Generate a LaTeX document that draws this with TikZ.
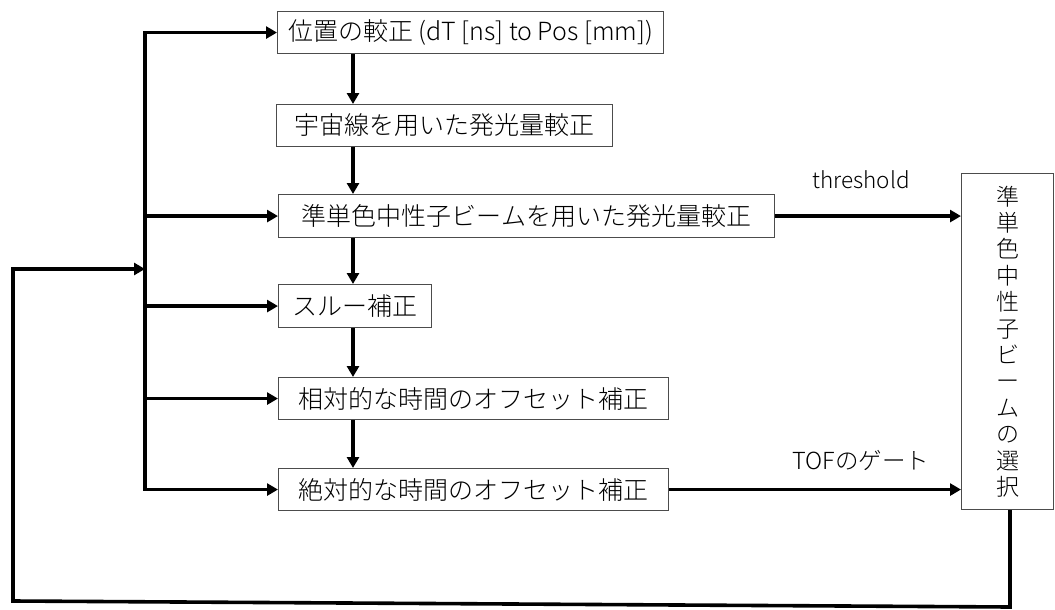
\documentclass[tikz,border=0pt]{standalone}
\usepackage{fontspec}
\setmainfont{Noto Sans CJK JP}[UprightFont={* Light}]
\usetikzlibrary{arrows.meta}
\begin{document}
\begin{tikzpicture}[x=1pt,y=-1pt,
  box/.style={draw=black!70, line width=1.1pt, anchor=north west, minimum height=42pt, inner sep=0pt, font=\fontsize{25}{29}\selectfont},
  conn/.style={line width=3.6pt, line cap=rect, -{Triangle[length=11pt,width=12pt]}},
  plain/.style={line width=3.6pt},
  lbl/.style={font=\fontsize{22.5}{26}\selectfont, inner sep=0pt}]
\useasboundingbox (0,0) rectangle (1055,610);
\node[box, minimum width=386pt] (b1) at (277,11) {位置の較正 (dT [ns] to Pos [mm])};
\node[box, minimum width=336pt] (b2) at (276,104) {宇宙線を用いた発光量較正};
\node[box, minimum width=496pt, minimum height=43pt] (b3) at (278,194) {準単色中性子ビームを用いた発光量較正};
\node[box, minimum width=153pt, minimum height=43pt] (b4) at (278,284) {スルー補正};
\node[box, minimum width=390pt] (b5) at (278,377) {相対的な時間のオフセット補正};
\node[box, minimum width=390pt] (b6) at (278,468) {絶対的な時間のオフセット補正};
\node[box, minimum width=92pt, minimum height=336pt, align=center, font=\fontsize{23}{26.4}\selectfont] (sel) at (961,173)
  {準\\単\\色\\中\\性\\子\\ビ\\ー\\ム\\の\\選\\択};
\node[lbl] (th) at (861,180) {threshold};
\node[lbl, font=\fontsize{23.5}{27}\selectfont] (tof) at (861,460) {TOFのゲート};
\coordinate (bus) at (145,0);
\coordinate (vx) at (353,0);
\coordinate (fr) at (1010,607);
\coordinate (fl) at (13,601);
\coordinate (ft) at (13,269);
\coordinate (fin) at (145,269);
% bus
\draw[plain] (b1.west -| bus) -- (b6.west -| bus);
\draw[conn] (b1.west -| bus) -- (b1.west);
\draw[conn] (b3.west -| bus) -- (b3.west);
\draw[conn] (b4.west -| bus) -- (b4.west);
\draw[conn] (b5.west -| bus) -- (b5.west);
\draw[conn] (b6.west -| bus) -- (b6.west);
% chain
\draw[conn, line cap=butt] (b1.south -| vx) -- (b2.north -| vx);
\draw[conn, line cap=butt] (b2.south -| vx) -- (b3.north -| vx);
\draw[conn, line cap=butt] (b3.south -| vx) -- (b4.north -| vx);
\draw[conn, line cap=butt] (b4.south -| vx) -- (b5.north -| vx);
\draw[conn, line cap=butt] (b5.south -| vx) -- (b6.north -| vx);
% to selection
\draw[conn, line cap=butt] (b3.east) -- (b3.east -| sel.west);
\draw[conn, line cap=butt] (b6.east) -- (b6.east -| sel.west);
% feedback
\draw[conn, line cap=butt, line join=miter] (sel.south -| fr) -- (fr) -- (fl) -- (ft) -- (fin);
\end{tikzpicture}
\end{document}
